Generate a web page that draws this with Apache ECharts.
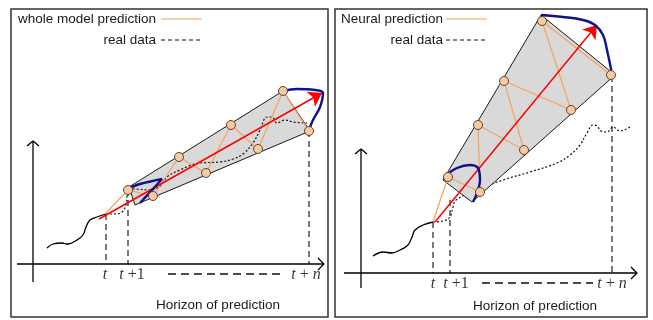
<!DOCTYPE html>
<html><head><meta charset="utf-8">
<script src="https://cdn.jsdelivr.net/npm/echarts@6/dist/echarts.min.js"></script>
<style>html,body{margin:0;padding:0;background:#fff}#c{width:653px;height:320px}</style>
</head><body><div id="c"></div>
<script>
// ---------- data (units: offsets from each panel's axis origin, y upward) ----------
const tickLabels = ['t', 't +1', 't + n'];
const legendLeft = ['whole model prediction', 'real data'];
const legendRight = ['Neural prediction', 'real data'];
const horizonTitle = 'Horizon of prediction';

// left panel
const leftYAxis = [[0, -18], [0, 123]];
const leftYArrow = [[-6, 118], [0, 123], [6, 118]];
const leftXAxis = [[-16, 0], [291, 0]];
const leftXArrow = [[285, 6], [291, 0], [285, -6]];
const leftHistory = [[14,16],[20,20],[29,21],[35,20],[44,24],[50,29],[53,37],[57,44],[64,47],[73,50]];
const leftTickX = [73, 95, 276];
const leftTickTop = [50, 74, 133];
const leftLabelX = [72, 99, 273];
const leftHorizon = [[135, -10], [249, -10]];
const leftCone = [[96,77],[250,173],[277,133],[102,59]];
const leftNodes = [[95,74],[120,68],[146,107],[173,91],[198,139],[225,115],[250,173],[276,133]];
const leftStart = [73, 51];
const leftArrow = [[66,45],[289,171]];
const leftNavySmall = [[94,75],[107,80],[129,85],[119,74],[107,61]];
const leftNavyBig = [[250,173],[264,175],[282,174],[290,171],[287,157],[280,144],[276,134]];
const leftReal = [[73,50],[82,50],[89,52],[93,59],[94,67],[95,73],[100,75],[117,74],[127,78],[134,87],[147,94],[167,101],[187,102],[200,105],[210,110],[220,121],[227,134],[234,147],[239,147],[244,141],[252,144],[260,142],[274,141]];

// right panel
const rightYAxis = [[0, -15], [0, 124]];
const rightYArrow = [[-6, 119], [0, 124], [6, 119]];
const rightXAxis = [[-17, 0], [276, 0]];
const rightXArrow = [[270, 6], [276, 0], [270, -6]];
const rightHistory = [[12,17],[22,21],[31,20],[39,23],[47,28],[51,36],[54,43],[62,48],[72,51]];
const rightTickX = [72, 89, 251];
const rightTickTop = [51, 73, 197];
const rightLabelX = [72, 95, 251];
const rightHorizon = [[121, -10], [232, -10]];
const rightCone = [[180,258],[254,198],[111,71],[82,93]];
const rightNodes = [[87,96],[119,81],[117,148],[163,123],[143,192],[210,163],[181,252],[250,198]];
const rightStart = [72, 51];
const rightArrow = [[74,51],[236,248]];
const rightNavySmall = [[84,97],[96,105],[109,108],[117,105],[119,93],[116,80],[112,71]];
const rightNavyBig = [[180,258],[202,256],[222,253],[234,248],[242,238],[246,223],[251,199]];
const rightReal = [[72,51],[82,52],[89,56],[92,66],[95,73],[116,83],[142,93],[169,101],[196,110],[209,118],[219,128],[226,140],[232,148],[236,147],[240,142],[246,141],[252,146],[259,142],[269,146]];

// ---------- styles ----------
const SANS = '"Liberation Sans", Arial, sans-serif';
const SERIF = '"Liberation Serif", "Times New Roman", serif';
const ORANGE = '#f5a25d';
const NAVY = '#101090';

function line(gi, data, style, z, smooth) {
  return { type: 'line', xAxisIndex: gi, yAxisIndex: gi, data: data, symbol: 'none',
    smooth: smooth || false, lineStyle: style, z: z, silent: true, animation: false, clip: false };
}
function cone(gi, pts, z) {
  return { type: 'custom', xAxisIndex: gi, yAxisIndex: gi, data: [[pts[0][0], pts[0][1]]], z: z, silent: true,
    animation: false,
    renderItem: function (params, api) {
      return { type: 'polygon', shape: { points: pts.map(function (p) { return api.coord(p); }) },
        style: { fill: '#d9d9d9', stroke: '#1a1a1a', lineWidth: 1 } };
    } };
}
function arrow(gi, coords, z) {
  return { type: 'lines', coordinateSystem: 'cartesian2d', xAxisIndex: gi, yAxisIndex: gi,
    symbol: ['none', 'arrow'], symbolSize: 13, z: z, silent: true, animation: false,
    lineStyle: { color: '#ff0000', width: 1.5, opacity: 1, curveness: 0 },
    data: [{ coords: coords }] };
}
function nodes(gi, data, z) {
  return { type: 'scatter', xAxisIndex: gi, yAxisIndex: gi, data: data, symbol: 'circle', symbolSize: 9,
    itemStyle: { color: '#f9c9a0', borderColor: '#5b4433', borderWidth: 1, opacity: 1 }, z: z, silent: true, animation: false };
}
function rich(text) {
  return text.split(/([a-z])/).filter(function (s) { return s.length; })
    .map(function (s) { return /^[a-z]$/.test(s) ? '{i|' + s + '}' : '{r|' + s + '}'; }).join('');
}
function tickLabelSeries(gi, xs, y) {
  return { type: 'scatter', xAxisIndex: gi, yAxisIndex: gi, symbol: 'circle', symbolSize: 1, silent: true, animation: false,
    itemStyle: { color: 'rgba(0,0,0,0)' }, z: 8,
    data: xs.map(function (x, i) { return { value: [x, y], name: rich(tickLabels[i]) }; }),
    label: { show: true, position: 'inside', color: '#000', formatter: function (p) { return p.name; },
      rich: { i: { fontFamily: SERIF, fontStyle: 'italic', fontSize: 16, color: '#000' },
              r: { fontFamily: SERIF, fontSize: 16, color: '#000' } } } };
}
function verticals(gi, xs, tops) {
  return xs.map(function (x, i) {
    return line(gi, [[x, tops[i]], [x, 0]], { color: '#333', width: 1.3, type: [6, 4] }, 2);
  });
}
function panel(gi, d) {
  const s = [];
  s.push(line(gi, d.yAxis, { color: '#000', width: 1.3 }, 3));
  s.push(line(gi, d.yArrow, { color: '#000', width: 1.3 }, 3));
  s.push(line(gi, d.xAxis, { color: '#000', width: 1.3 }, 3));
  s.push(line(gi, d.xArrow, { color: '#000', width: 1.3 }, 3));
  s.push(line(gi, d.history, { color: '#000', width: 1.3 }, 3, 0.4));
  verticals(gi, d.tickX, d.tickTop).forEach(function (v) { s.push(v); });
  s.push(line(gi, d.horizon, { color: '#111', width: 1.3, type: [8, 5] }, 3));
  s.push(tickLabelSeries(gi, d.labelX, -11));
  s.push(line(gi, d.real, { color: '#111', width: 1.2, type: [2, 2] }, d.realZ, 0.4));
  s.push(cone(gi, d.cone, 4));
  s.push(line(gi, [d.start].concat(d.nodes), { color: ORANGE, width: 1.2 }, 6));
  s.push(arrow(gi, d.arrow, 7));
  s.push(line(gi, d.navySmall, { color: NAVY, width: 2.4 }, 8, 0.35));
  s.push(line(gi, d.navyBig, { color: NAVY, width: 2.4 }, 8, 0.4));
  s.push(nodes(gi, d.nodes, 9));
  return s;
}

const series = [].concat(
  panel(0, { yAxis: leftYAxis, yArrow: leftYArrow, xAxis: leftXAxis, xArrow: leftXArrow, history: leftHistory,
    tickX: leftTickX, tickTop: leftTickTop, labelX: leftLabelX, horizon: leftHorizon, cone: leftCone,
    nodes: leftNodes, start: leftStart, arrow: leftArrow, navySmall: leftNavySmall, navyBig: leftNavyBig,
    real: leftReal, realZ: 5 }),
  panel(1, { yAxis: rightYAxis, yArrow: rightYArrow, xAxis: rightXAxis, xArrow: rightXArrow, history: rightHistory,
    tickX: rightTickX, tickTop: rightTickTop, labelX: rightLabelX, horizon: rightHorizon, cone: rightCone,
    nodes: rightNodes, start: rightStart, arrow: rightArrow, navySmall: rightNavySmall, navyBig: rightNavyBig,
    real: rightReal, realZ: 1 })
);

function legendGraphics(rightEdge, lineX1, lineX2, labels) {
  const txt = { font: '13.5px ' + SANS, fill: '#1a1a1a', align: 'right', verticalAlign: 'middle' };
  return [
    { type: 'text', x: rightEdge, y: 19, style: Object.assign({ text: labels[0] }, txt) },
    { type: 'line', shape: { x1: lineX1, y1: 19, x2: lineX2, y2: 19 }, style: { stroke: ORANGE, lineWidth: 1.2 } },
    { type: 'text', x: rightEdge, y: 40, style: Object.assign({ text: labels[1] }, txt) },
    { type: 'line', shape: { x1: lineX1, y1: 40, x2: lineX2, y2: 40 }, style: { stroke: '#111', lineWidth: 1.2, lineDash: [4, 3] } }
  ];
}
const titleStyle = { font: '13.5px ' + SANS, fill: '#1a1a1a', align: 'center', verticalAlign: 'middle', text: horizonTitle };

const chart = echarts.init(document.getElementById('c'));
chart.setOption({
  animation: false,
  backgroundColor: '#fff',
  grid: [
    { left: 11, top: 9, width: 317, height: 308, show: true, borderColor: '#333', borderWidth: 1.5, backgroundColor: 'rgba(0,0,0,0)' },
    { left: 335, top: 9, width: 312, height: 308, show: true, borderColor: '#333', borderWidth: 1.5, backgroundColor: 'rgba(0,0,0,0)' }
  ],
  xAxis: [
    { gridIndex: 0, type: 'value', min: -22, max: 295, show: false },
    { gridIndex: 1, type: 'value', min: -26, max: 286, show: false }
  ],
  yAxis: [
    { gridIndex: 0, type: 'value', min: -53, max: 255, show: false },
    { gridIndex: 1, type: 'value', min: -44, max: 264, show: false }
  ],
  graphic: [].concat(
    legendGraphics(156, 161, 202, legendLeft),
    legendGraphics(443, 446, 487, legendRight),
    [{ type: 'text', x: 218, y: 305, style: Object.assign({}, titleStyle) },
     { type: 'text', x: 535, y: 306, style: Object.assign({}, titleStyle) }]
  ),
  series: series
});
</script></body></html>
